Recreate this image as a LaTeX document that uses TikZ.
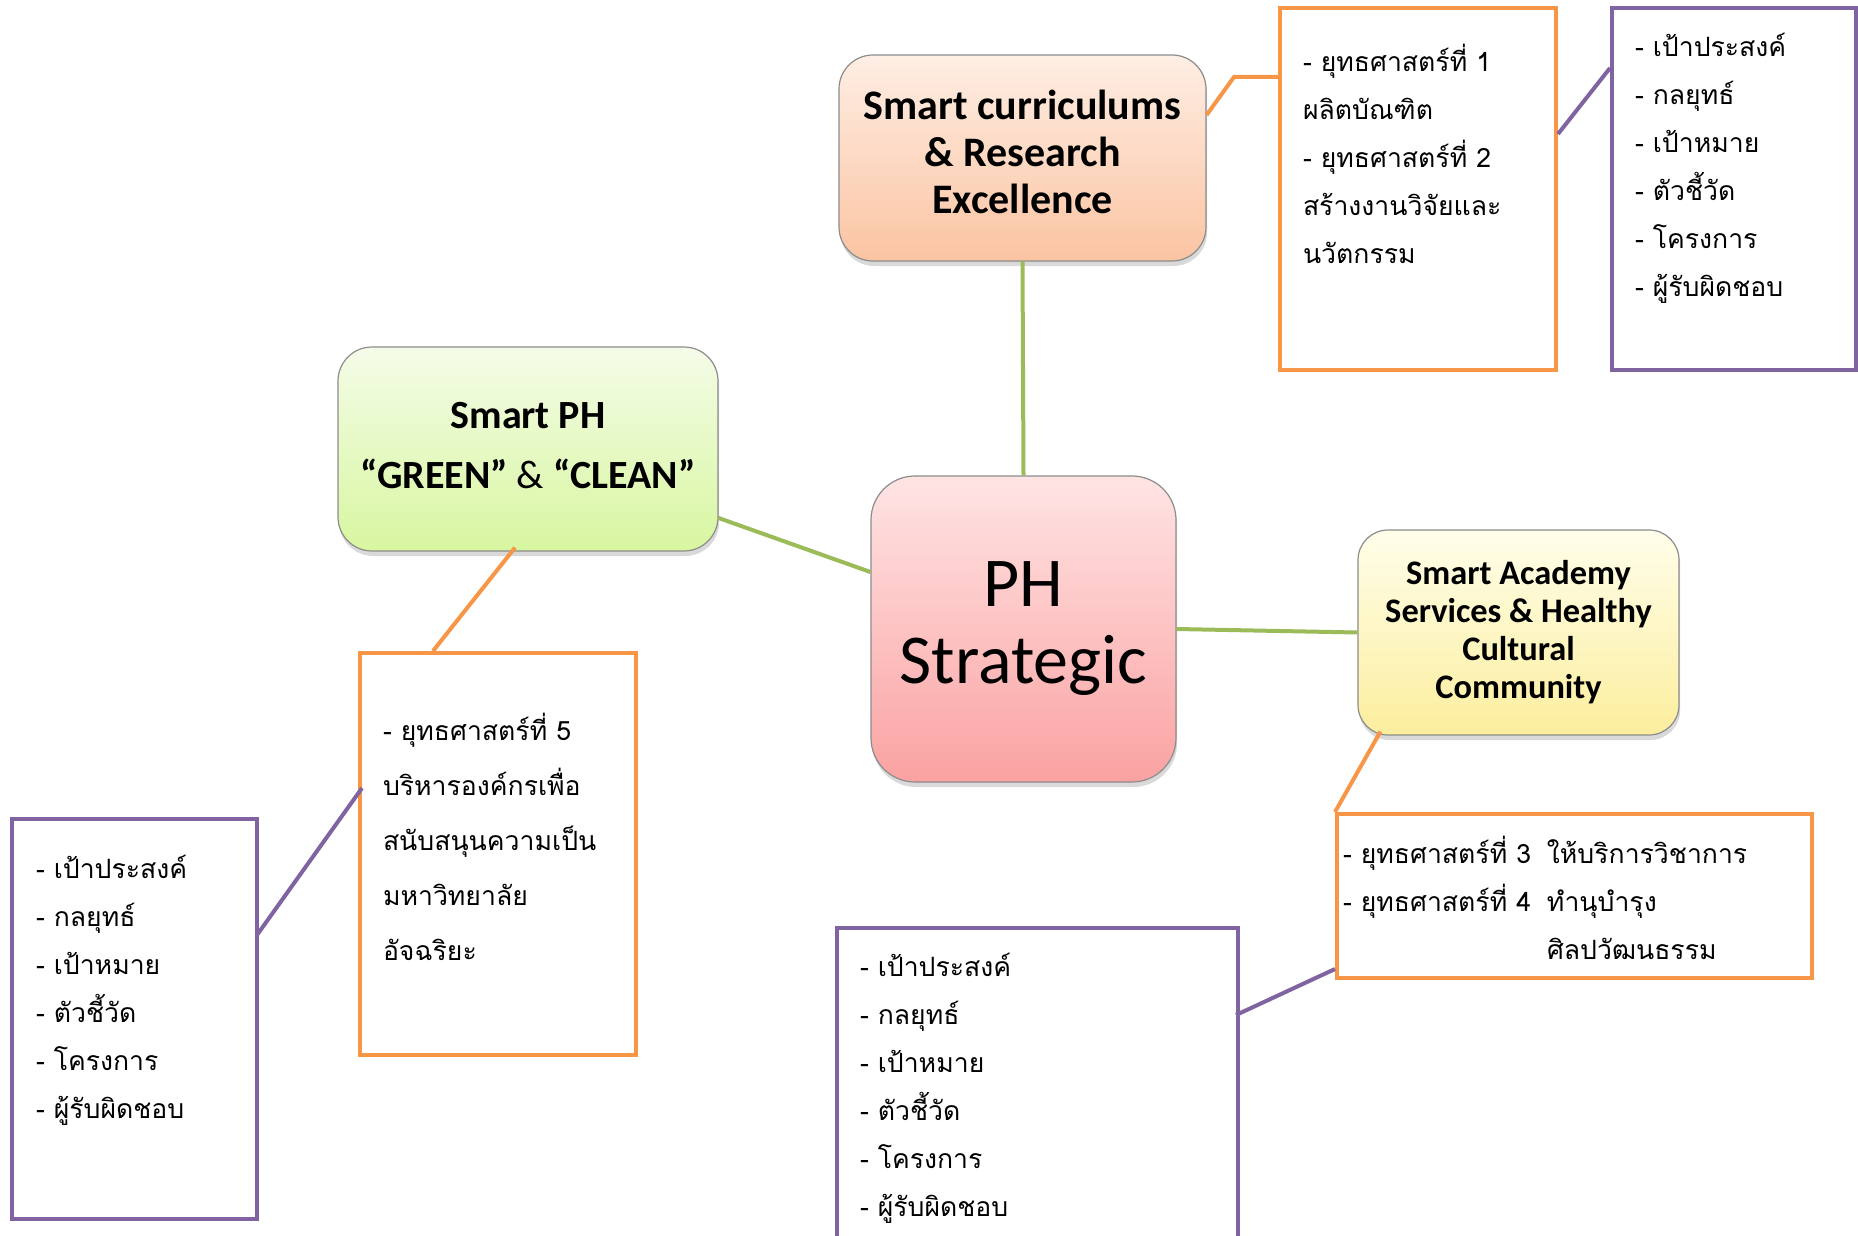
\documentclass[tikz,border=0pt]{standalone}
\usepackage{fontspec}
\setmainfont{Carlito}
\newfontfamily\thaifont[Script=Thai]{Loma}
\usetikzlibrary{calc,shadows}

\definecolor{lineorange}{HTML}{F79646}
\definecolor{linepurple}{HTML}{8064A2}
\definecolor{linegreen}{HTML}{9BBB59}
\definecolor{peachtop}{HTML}{FEEEE4}
\definecolor{peachbot}{HTML}{FBC4A2}
\definecolor{limetop}{HTML}{F4FCE8}
\definecolor{limebot}{HTML}{D8F6A0}
\definecolor{rosetop}{HTML}{FFE4E4}
\definecolor{rosebot}{HTML}{FBA2A2}
\definecolor{lemontop}{HTML}{FFFEEA}
\definecolor{lemonbot}{HTML}{FCEE9E}

\newcommand{\toptext}[3]{\parbox[c][#2][t]{#1}{#3}}

\begin{document}
\begin{tikzpicture}[x=0.5pt, y=-0.5pt,
    topic/.style={draw=black!45, line width=0.6pt, rounded corners=17pt, align=center,
      font=\bfseries\fontsize{21}{23.5}\selectfont,
      drop shadow={shadow xshift=0.6pt, shadow yshift=-2.5pt, opacity=0.3}},
    hub/.style={topic, rounded corners=22pt, font=\fontsize{35}{38.5}\selectfont},
    stratbox/.style={draw=lineorange, line width=2pt, font=\thaifont\fontsize{13.3}{24}\selectfont},
    goalbox/.style={stratbox, draw=linepurple},
    trunk/.style={linegreen, line width=2pt},
    orangelink/.style={lineorange, line width=2pt},
    purplelink/.style={linepurple, line width=2pt},
  ]
  \clip (0,0) rectangle (1858,1236);

  % main topics
  \node[hub, minimum width=152.5pt, minimum height=153pt, top color=rosetop, bottom color=rosebot]
    (hub) at (1023.5,629) {PH\\Strategic};
  \node[topic, minimum width=183.5pt, minimum height=103pt, top color=peachtop, bottom color=peachbot]
    (curric) at (1022.5,158) {Smart curriculums\\\& Research\\Excellence\\[-17.5pt]\mbox{}};
  \node[topic, minimum width=190pt, minimum height=102pt, top color=limetop, bottom color=limebot,
    font=\bfseries\fontsize{20}{30}\selectfont]
    (smartph) at (528,449) {Smart PH\\“GREEN” {\mdseries\&} “CLEAN”\\[-26pt]\mbox{}};
  \node[topic, rounded corners=15pt, minimum width=160.5pt, minimum height=102.5pt, top color=lemontop, bottom color=lemonbot,
    font=\bfseries\fontsize{17.2}{19}\selectfont]
    (academy) at (1518.5,632.5) {Smart Academy\\Services \& Healthy\\Cultural\\Community};

  % strategies
  \node[stratbox, inner xsep=11.5pt, inner ysep=15pt] (strat12) at (1418,189)
    {\toptext{115pt}{151pt}{\strut- ยุทธศาสตร์ที่ 1\\ผลิตบัณฑิต\\- ยุทธศาสตร์ที่ 2\\สร้างงานวิจัยและ\\นวัตกรรม}};
  \node[stratbox, inner xsep=11.5pt, inner ysep=24.25pt,
    font=\thaifont\fontsize{13.3}{27.5}\selectfont] (strat5) at (498,854)
    {\toptext{115pt}{152.5pt}{\strut- ยุทธศาสตร์ที่ 5\\บริหารองค์กรเพื่อ\\สนับสนุนความเป็น\\มหาวิทยาลัย\\อัจฉริยะ}};
  \node[stratbox, inner xsep=3pt, inner ysep=7.7pt] (strat34) at (1574.5,896)
    {\toptext{231.5pt}{66.6pt}{\strut\makebox[102pt][l]{- ยุทธศาสตร์ที่ 3}ให้บริการวิชาการ\\
      \makebox[102pt][l]{- ยุทธศาสตร์ที่ 4}ทำนุบำรุง\\
      \makebox[102pt][l]{}ศิลปวัฒนธรรม}};

  % goals
  \node[goalbox, inner xsep=11.5pt, inner ysep=7.5pt] (goals1) at (1734,189)
    {\toptext{99pt}{166pt}{\strut- เป้าประสงค์\\- กลยุทธ์\\- เป้าหมาย\\- ตัวชี้วัด\\- โครงการ\\- ผู้รับผิดชอบ}};
  \node[goalbox, inner xsep=12pt, inner ysep=13pt] (goals2) at (134.5,1019)
    {\toptext{98.5pt}{174pt}{\strut- เป้าประสงค์\\- กลยุทธ์\\- เป้าหมาย\\- ตัวชี้วัด\\- โครงการ\\- ผู้รับผิดชอบ}};
  \node[goalbox, inner xsep=11.5pt, inner ysep=7.5pt] (goals3) at (1037.5,1108)
    {\toptext{177.5pt}{165pt}{\strut- เป้าประสงค์\\- กลยุทธ์\\- เป้าหมาย\\- ตัวชี้วัด\\- โครงการ\\- ผู้รับผิดชอบ}};

  % links
  \draw[trunk] (curric.south) -- (hub.north);
  \draw[trunk] ($(smartph.east)+(0,69)$) -- ($(hub.west)+(0,-57)$);
  \draw[trunk] (hub.east) -- (academy.west);

  \draw[orangelink] ($(curric.east)+(0,-43)$) -- ($(strat12.west)+(-44,-112)$) -- ($(strat12.west)+(0,-112)$);
  \draw[orangelink] ($(smartph.south)+(-13,-4)$) -- ($(strat5.north)+(-65,0)$);
  \draw[orangelink] ($(academy.south west)+(23,-4)$) -- (strat34.north west);

  \draw[purplelink] ($(strat12.east)+(0,-55)$) -- ($(goals1.west)+(0,-121)$);
  \draw[purplelink] ($(strat5.west)+(4,-66)$) -- ($(goals2.east)+(-2,-84)$);
  \draw[purplelink] ($(strat34.west)+(0,73)$) -- ($(goals3.north east)+(-4,89)$);
\end{tikzpicture}
\end{document}
